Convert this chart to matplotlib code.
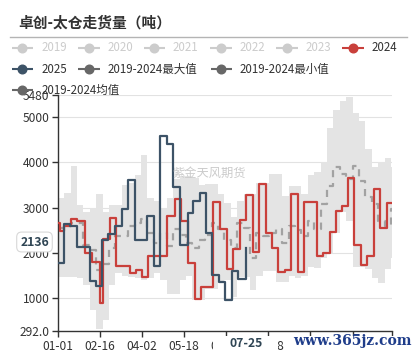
import pandas as pd
import matplotlib
matplotlib.use('Agg')
import matplotlib.pyplot as plt
import matplotlib.transforms as mtrans
from matplotlib.patches import Rectangle

plt.rcParams['font.family'] = ['Noto Sans CJK SC', 'DejaVu Sans']

# ---------------- data ----------------
days = pd.date_range('2024-01-01', '2024-12-31', freq='D').strftime('%m-%d').tolist()
day_idx = {d: i for i, d in enumerate(days)}

title = '卓创-太仓走货量（吨）'
legend_names = ['2019', '2020', '2021', '2022', '2023', '2024', '2025',
                '2019-2024最大值', '2019-2024最小值', '2019-2024均值']
legend_active = [False, False, False, False, False, True, True, True, True, True]

week_starts = days[::7]  # 53 weekly slots

max_vals = [3200, 3320, 3925, 3050, 2900, 3000, 3300, 2900, 3050, 3050,
            3500, 3550, 3720, 4150, 3200, 3150, 3000, 3200, 3630, 3700,
            3700, 3650, 3500, 3520, 3520, 3300, 3100, 2800, 3150, 3300,
            3300, 3550, 3550, 3740, 3740, 3260, 3480, 3480, 3300, 3720,
            3780, 4000, 4750, 5150, 5350, 5444, 5074, 4900, 4300, 3900,
            4000, 4100, 3888]
min_vals = [1460, 1460, 1460, 1450, 1300, 750, 320, 520, 1300, 1550,
            1500, 1480, 1450, 1400, 1450, 1550, 1400, 1100, 1100, 1400,
            1500, 960, 960, 1200, 1200, 1350, 1400, 1037, 1480, 1480,
            1185, 1500, 1600, 1600, 1370, 1370, 1500, 1450, 1500, 1700,
            1666, 1900, 2000, 2450, 2900, 2700, 1700, 1700, 1650, 1450,
            1333, 1650, 1900]
mean_vals = [2550, 2600, 2650, 2667, 2185, 2074, 1630, 1750, 2111, 2370,
             2370, 2593, 2650, 2740, 2444, 2222, 2444, 2148, 2518, 2400,
             2222, 2111, 2296, 2400, 2667, 2518, 2296, 2100, 2667, 2550,
             1889, 2444, 2370, 2450, 2518, 2222, 2593, 2500, 2370, 2700,
             2519, 3074, 3481, 3900, 3740, 3630, 3926, 3593, 3222, 3074,
             2704, 2593, 2963]

dates_2024 = ['01-01', '01-04', '01-08', '01-15', '01-22', '01-31', '02-07', '02-16',
              '02-20', '02-27', '03-05', '03-20', '03-27', '04-02', '04-09', '04-29',
              '05-08', '05-15', '05-22', '05-30', '06-06', '06-19', '06-26', '07-04',
              '07-10', '07-18', '07-25', '08-01', '08-08', '08-15', '08-22', '08-29',
              '09-05', '09-12', '09-19', '09-26', '10-10', '10-17', '10-24', '10-31',
              '11-06', '11-13', '11-20', '11-27', '12-04', '12-11', '12-18', '12-25',
              '12-31']
vals_2024 = [2666, 2481, 2592, 2740, 2703, 1999, 1800, 887,
             2300, 2777, 1703, 1555, 1629, 1481, 1925, 2810,
             3190, 2700, 1780, 975, 1245, 3126, 2519, 1640,
             2090, 2730, 3280, 2014, 3518, 2444, 2111, 1570,
             1629, 3296, 1570, 3124, 1926, 2000, 2467, 2926,
             3037, 3652, 2170, 1726, 1926, 3407, 2555, 3111,
             3111]

dates_2025 = ['01-01', '01-08', '01-14', '01-22', '02-05', '02-12', '02-18', '02-25',
              '03-04', '03-11', '03-18', '03-25', '04-08', '04-15', '04-22', '04-29',
              '05-06', '05-14', '05-22', '05-28', '06-04', '06-11', '06-18', '06-25',
              '07-02', '07-09', '07-16', '07-25']
vals_2025 = [1778, 2629, 2593, 2124, 1384, 1273, 2296, 2407,
             2593, 2970, 3614, 2296, 2806, 1703, 4575, 4400,
             3455, 2185, 2889, 3148, 3318, 2444, 1519, 1370,
             970, 1600, 1430, 2111]

xtick_labels = ['01-01', '02-16', '04-02', '05-18', '07-03', '08-18', '10-03', '11-18']
ytick_vals = [292.0, 1000, 2000, 3000, 4000, 5000, 5480]
ytick_labels = ['292.0', '1000', '2000', '3000', '4000', '5000', '5480']
pointer_x_label = '07-25'
pointer_y_label = '2136'
watermark_cn = '紫金天风期货'
watermark_site = 'www.365jz.com'

# ---------------- style ----------------
RED = '#c9403b'
BLUE = '#3d5367'
GRAYI = '#676767'
BAND = '#e4e4e4'
MEANC = '#a2a2a2'
INACT = '#cccccc'
TXT = '#333333'
legend_colors = [INACT] * 5 + [RED, BLUE, GRAYI, GRAYI, GRAYI]

W, H = 418, 355
fig = plt.figure(figsize=(W / 100, H / 100), dpi=100)
L, R, T, B = 57.7, 392.0, 95.0, 330.5
ax = fig.add_axes([L / W, 1 - B / H, (R - L) / W, (B - T) / H])
ax.set_xlim(0, len(days) - 1)
ax.set_ylim(ytick_vals[0], ytick_vals[-1])

# band, mean, series
wx = [day_idx[d] for d in week_starts] + [len(days) - 1]
mx = max_vals + [max_vals[-1]]
mn = min_vals + [min_vals[-1]]
me = mean_vals + [mean_vals[-1]]
ax.fill_between(wx, mn, mx, step='post', color=BAND, lw=0, zorder=1)
ax.plot(wx, me, drawstyle='steps-post', color=MEANC, lw=1.6, dashes=(3.2, 2.6), zorder=2)

x24 = [day_idx[d] for d in dates_2024]
ax.plot(x24, vals_2024, drawstyle='steps-post', color=RED, lw=1.6, zorder=3)
x25 = [day_idx[d] for d in dates_2025]
ax.plot(x25, vals_2025, drawstyle='steps-post', color=BLUE, lw=1.6, zorder=4)

# grid
for v in ytick_vals[1:]:
    ax.axhline(v, color='#e2e2e2', lw=0.8, zorder=0)

# axes styling
for s in ['top', 'right']:
    ax.spines[s].set_visible(False)
for s in ['left', 'bottom']:
    ax.spines[s].set_color(TXT)
    ax.spines[s].set_linewidth(1.0)
ax.set_yticks(ytick_vals)
ax.set_yticklabels(ytick_labels)
xt = [day_idx[d] for d in xtick_labels] + [len(days) - 1]
ax.set_xticks(xt)
ax.set_xticklabels(xtick_labels + [''])
ax.tick_params(axis='y', direction='out', length=4, width=1, color=TXT,
               labelsize=8.6, labelcolor=TXT, pad=2)
ax.tick_params(axis='x', direction='out', length=4, width=1, color=TXT,
               labelsize=8.6, labelcolor=TXT, pad=2.5)

# watermark inside plot
ax.text(0.452, 0.668, watermark_cn, transform=ax.transAxes, ha='center', va='center',
        fontsize=8.8, color='#cbcbcb', zorder=6)

# ---------------- overlay (title, legend, pointer labels) ----------------
ov = fig.add_axes([0, 0, 1, 1], zorder=10)
ov.set_xlim(0, W)
ov.set_ylim(H, 0)
ov.axis('off')
ov.patch.set_alpha(0)

ov.text(18, 22, title, fontsize=10.6, fontweight='bold', color=TXT, ha='left', va='center')
ov.plot([10, 407], [37, 37], color='#b4b4b4', lw=1.0)

leg_x = [11.7, 78, 143.5, 210, 276, 342, 11.7, 78, 210.5, 11.7]
leg_y = [47.7] * 6 + [69.3] * 3 + [90.3]
for name, act, col, lx, ly in zip(legend_names, legend_active, legend_colors, leg_x, leg_y):
    ov.plot([lx, lx + 21.5], [ly, ly], color=col, lw=1.5, solid_capstyle='butt')
    ov.plot([lx + 10.75], [ly], marker='o', ms=6.2, color=col, mec=col)
    ov.text(lx + 29.5, ly, name, fontsize=8.3, color=(TXT if act else INACT),
            ha='left', va='center')

# x pointer label
tr = mtrans.blended_transform_factory(ax.transData, ov.transData)
px = day_idx[pointer_x_label]
ov.add_patch(Rectangle((213, 335.5), 65, 17, facecolor='white', edgecolor='none', zorder=3))
ov.text(px, 343.5, pointer_x_label, transform=tr, ha='center', va='center',
        fontsize=8.8, fontweight='bold', color='#2f4554', zorder=4)

# y pointer label
ov.text(34.5, 242, pointer_y_label, ha='center', va='center', fontsize=8.8,
        fontweight='bold', color='#2f4554', zorder=4,
        bbox=dict(boxstyle='round,pad=0.28,rounding_size=0.4', facecolor='white',
                  edgecolor='#d8d8d8', lw=0.8))

# site watermark (with its white backing)
ov.add_patch(Rectangle((292, 335.5), 126, 19.5, facecolor='white', edgecolor='none', zorder=4))
ov.text(352.5, 341, watermark_site, ha='center', va='center', fontsize=10,
        fontweight='bold', family='DejaVu Serif', color='#1f3d8a', zorder=5)

fig.savefig('out.png', dpi=100)
